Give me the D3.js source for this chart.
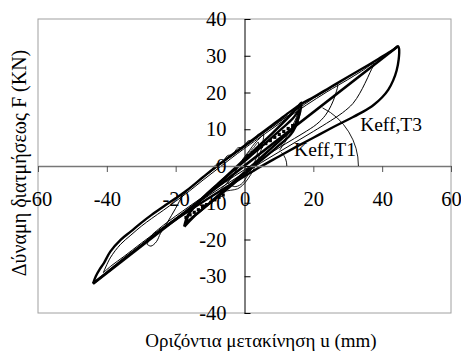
<!DOCTYPE html>
<html><head><meta charset="utf-8">
<script src="https://cdn.jsdelivr.net/npm/d3@7"></script>
<style>body{margin:0;background:#fff}svg{display:block}</style>
</head><body><svg id="c" width="461" height="354"></svg>
<script>
// ---- data (displacement u in mm, force F in kN) ----
const xTicks = [-60,-40,-20,0,20,40,60];
const yTicks = [-40,-30,-20,-10,0,10,20,30,40];
const xTitle = "Οριζόντια μετακίνηση u (mm)";
const yTitle = "Δύναμη διατμήσεως F (KN)";

// largest cycle (±44 mm)
const bigU = [-44,-43.2,-42,-40.9,-39,-36,-33,-30.2,-27,-23.5,-20,-16.7,-12,-8,-4,0,4,8,12,16,20,24,28,32,36,39,41.5,43.5,44.6,
              44.9,44.8,44.2,43.2,41.8,40,37.5,34.5,30,25,20,15,10,5,0,-5,-10,-15,-20,-25.4,-30,-35,-40,-44];
const bigF = [-32,-30,-28,-26.5,-23.3,-20.1,-17.8,-15.6,-13.3,-11,-8.8,-6.6,-3,0,2.8,5.5,8.3,11.1,13.9,16.6,18.7,20.9,23.1,25.3,27.5,29.2,30.6,31.8,32.6,
              32,29,26,23.3,20.8,18.7,16.6,14.8,12.6,10.2,7.7,5.2,2.6,0,-2.8,-5.6,-8.5,-11.5,-14.6,-18.2,-21.6,-25.2,-29,-32];

// second cycle (±38 mm), thin
const midU = [-41,-39,-36,-33,-30,-27,-23.5,-20,-16,-12,-8,-4,0,6,12,18,24,30,34,37.6,
              36.5,35,33.5,31.5,28.5,25,20,15,10,5,0,-5,-10,-15,-20,-25,-30,-35,-38.5,-41];
const midF = [-29,-25,-21.3,-18.8,-16.4,-14.3,-12,-9.6,-6.8,-3.8,-0.9,2,4.8,8.8,12.8,16.6,20.2,23.5,25.8,27.9,
              25.5,22.5,19.8,17,14.5,12.3,9.4,6.6,3.8,1,-1.8,-4.8,-7.8,-11,-14.2,-17.5,-21,-24.6,-27,-29];
// third cycle (about -28 / +27 mm), thin
const thirdU = [-28.3,-27.2,-25.6,-24.4,-22.5,-20,-17.7,-14,-10,-5,0,5,10,15,20,24,27,
                26.4,25.2,23.5,21,17,12,7,2,-3,-8,-13,-18,-22,-25,-27.3,-28.3];
const thirdF = [-21.3,-21.8,-20.6,-18.3,-15.5,-11.5,-7.8,-4.6,-1.7,1.8,5.2,8.6,11.9,15.2,18.4,20.6,22.2,
                19.4,16.5,13.8,11.4,8.9,6.1,3.2,0.2,-2.8,-5.9,-9,-12.3,-15,-17.2,-19.2,-21.3];

// effective stiffness line of the largest cycle
const keffU = [-44,44.6];
const keffF = [-32,32.6];

// ±17 mm cycles, thick
const s1U = [-17.5,-16.5,-14.5,-11,-7,-3,0,4,8,11,13.5,15.5,16.5,
             16.2,15.5,14.3,12,8,4,0,-4,-8,-12,-15,-17.5];
const s1F = [-16.5,-13.5,-11,-7.8,-4.3,-0.8,1.8,5.3,8.8,11.6,14,16,17.2,
             15,12.8,10.5,8.4,5,1.6,-1.7,-5,-8.3,-11.6,-14,-16.5];
const s2U = [-17,-16,-14,-11,-8,-4,0,4,8,11,14,16,
             15.6,14.8,13.5,11,8,4,0,-4,-8,-12,-15,-17];
const s2F = [-15.5,-12.8,-10.4,-7.6,-5.1,-1.9,1.3,4.5,7.8,10.3,12.9,15.2,
             12.8,10.6,8.6,6.4,4,0.9,-2.3,-5.5,-8.6,-11.6,-13.9,-15.5];

// serrated thin trace along the upper branch
const serU = [-10,-8,-6.5,-5,-3.5,-2,-0.5,1,2.5,4,5.5,7,8.5,10,11.5,13,14.5,16];
const serF = [-1.6,0.6,0.9,2.8,3.1,4.9,5.1,6.8,7.1,8.6,9.0,10.3,11,12.1,13,13.9,15.1,16.2];

// thin unloading curves from the +17 mm peaks
const unlU = [16.3,15.6,14.5,13.2,11.8,10.5];
const unlF = [17,14.5,12,9.6,7.3,5.3];
const unl2U = [15.8,15.2,14.4,13.3,12,10.2];
const unl2F = [16.2,13.2,10.8,8.8,6.8,4.3];

// small cycles near the origin, thin
const tinyU = [-7,-5,-3,-1.5,0,1.5,3,4.5,5.5,5,4,2.5,1,-0.5,-2,-4,-6,-7];
const tinyF = [-6.5,-4.5,-2,0.5,2.5,4.3,6.2,7.6,8.6,5,2,-1.2,-3.5,-5.2,-6.2,-6.6,-6.8,-6.5];
const tiny2U = [-5,-3.5,-2,-0.5,1,2.5,4,3.5,2,0.5,-1,-3,-5];
const tiny2F = [-4.5,-2.8,-0.4,1.6,3.4,4.8,6.5,2.5,-0.8,-3.2,-5,-5.6,-4.5];

// dotted (square-marker) trace of the first test
const dotU = [-17,-15.8,-14.6,-13.4,-12.2,-11,-9.8,-8.6,-7.4,-6.2,
              1,2.3,3.6,4.9,6.2,7.5,8.8,10.1,11.4,12.7,14,15.3];
const dotF = [-14,-13.3,-12.6,-11.9,-11.2,-10.5,-9.9,-9.2,-8.5,-7.9,
              2.8,3.6,4.5,5.3,6.1,6.9,7.8,8.6,9.4,10.2,11,11.8];

// angle markers for the effective stiffness
const arcCentreU = [14.2, 6.5];
const arcRadiusU = [18.9, 5.8];
const arcAngleDeg = [63.4, 43];
const arcLabels = ["Keff,T3", "Keff,T1"];
const labelU = [33.6, 14.4];
const labelF = [9.4, 2.7];

// ---- drawing ----
const FONT = "'Liberation Serif','Times New Roman',Times,serif";
const svg = d3.select("#c").style("font-family", FONT);
const x = d3.scaleLinear().domain([-60,60]).range([38,451]);
const y = d3.scaleLinear().domain([-40,40]).range([313,19]);

svg.append("rect").attr("x",x(-60)).attr("y",y(40))
   .attr("width",x(60)-x(-60)).attr("height",y(-40)-y(40))
   .attr("fill","none").attr("stroke","#a0a0a0").attr("stroke-width",1);

const zip = (u,f)=>u.map((v,i)=>[v,f[i]]);
const line = d3.line().x(d=>x(d[0])).y(d=>y(d[1])).curve(d3.curveCatmullRom.alpha(0.5));
const plot = svg.append("g");
function draw(u,f,w){
  plot.append("path").attr("d",line(zip(u,f))).attr("fill","none")
      .attr("stroke","#000").attr("stroke-width",w).attr("stroke-linejoin","round");
}
draw(midU,midF,1);
draw(thirdU,thirdF,1);
draw(tinyU,tinyF,0.9);
draw(tiny2U,tiny2F,0.9);
draw(serU,serF,0.9);
draw(unlU,unlF,0.9);
draw(unl2U,unl2F,0.9);
draw(bigU,bigF,2.4);
draw(keffU,keffF,2.6);
draw(s1U,s1F,2.6);
draw(s2U,s2F,2.3);
plot.selectAll("rect.dot").data(zip(dotU,dotF)).enter().append("rect")
   .attr("x",d=>x(d[0])-1.6).attr("y",d=>y(d[1])-1.6).attr("width",3.2).attr("height",3.2).attr("fill","#000");

// axes through the origin
const fmt = d => String(d);
const xAxis = d3.axisBottom(x).tickValues(xTicks).tickSizeInner(6).tickSizeOuter(0).tickPadding(19).tickFormat(fmt);
const gx = svg.append("g").attr("transform",`translate(0,${y(0)})`).call(xAxis);
gx.select(".domain").attr("stroke","#777").attr("stroke-width",1.3);
gx.selectAll(".tick line").attr("stroke","#555");
const yAxis = d3.axisLeft(y).tickValues(yTicks).tickSizeInner(-6).tickSizeOuter(0).tickPadding(18).tickFormat(fmt);
const gy = svg.append("g").attr("transform",`translate(${x(0)},0)`).call(yAxis);
gy.select(".domain").attr("stroke","#000");
svg.selectAll("g").attr("font-family", null);
svg.selectAll(".tick text").attr("font-size",20.5).style("font-family",FONT).attr("fill","#000");

// stiffness angle arcs and labels
arcCentreU.forEach((c,i)=>{
  const cx = x(c), cy = y(0), r = x(c+arcRadiusU[i]) - x(c);
  const p = d3.path();
  const a = -arcAngleDeg[i]*Math.PI/180;
  p.moveTo(cx + r, cy);
  p.arc(cx, cy, r, 0, a, true);
  svg.append("path").attr("d",p.toString()).attr("fill","none").attr("stroke","#000").attr("stroke-width",0.9);
  svg.append("text").attr("x",x(labelU[i])).attr("y",y(labelF[i])).attr("font-size",19.5).style("font-family",FONT).text(arcLabels[i]);
});

svg.append("text").attr("x",261).attr("y",347).attr("text-anchor","middle").attr("font-size",19).style("font-family",FONT).text(xTitle);
svg.append("text").attr("transform","translate(26,163) rotate(-90)").attr("text-anchor","middle").attr("font-size",20).style("font-family",FONT).text(yTitle);
</script></body></html>
